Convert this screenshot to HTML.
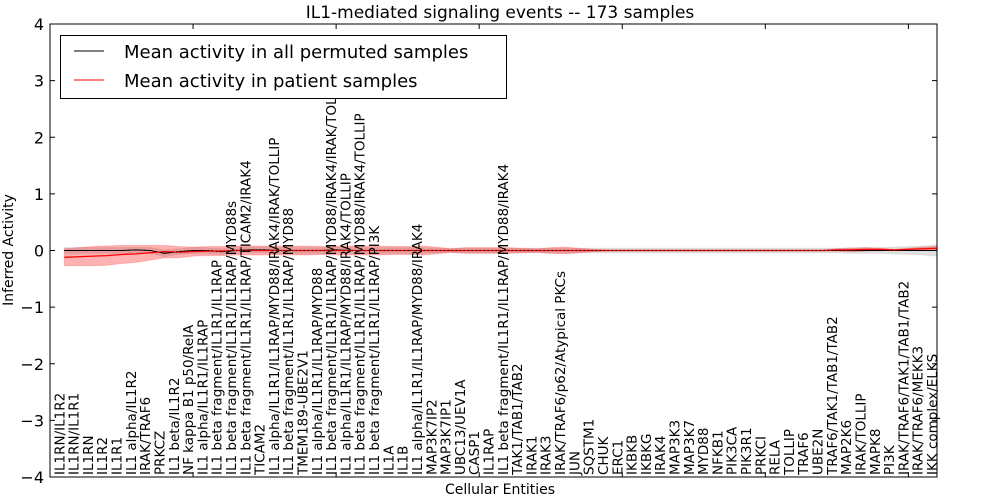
<!DOCTYPE html>
<html><head><meta charset="utf-8"><style>
body{margin:0;background:#fff}
svg{display:block;font-family:"DejaVu Sans","Liberation Sans",sans-serif}
</style></head><body>
<svg id="chart" width="1000" height="500" xmlns="http://www.w3.org/2000/svg"></svg>
<script>
const categories=["IL1RN/IL1R2","IL1RN/IL1R1","IL1RN","IL1R2","IL1R1","IL1 alpha/IL1R2","IRAK/TRAF6","PRKCZ","IL1 beta/IL1R2","NF kappa B1 p50/RelA","IL1 alpha/IL1R1/IL1RAP","IL1 beta fragment/IL1R1/IL1RAP","IL1 beta fragment/IL1R1/IL1RAP/MYD88s","IL1 beta fragment/IL1R1/IL1RAP/TICAM2/IRAK4","TICAM2","IL1 alpha/IL1R1/IL1RAP/MYD88/IRAK4/IRAK/TOLLIP","IL1 beta fragment/IL1R1/IL1RAP/MYD88","TMEM189-UBE2V1","IL1 alpha/IL1R1/IL1RAP/MYD88","IL1 beta fragment/IL1R1/IL1RAP/MYD88/IRAK4/IRAK/TOLLIP","IL1 alpha/IL1R1/IL1RAP/MYD88/IRAK4/TOLLIP","IL1 beta fragment/IL1R1/IL1RAP/MYD88/IRAK4/TOLLIP","IL1 beta fragment/IL1R1/IL1RAP/PI3K","IL1A","IL1B","IL1 alpha/IL1R1/IL1RAP/MYD88/IRAK4","MAP3K7IP2","MAP3K7IP1","UBC13/UEV1A","CASP1","IL1RAP","IL1 beta fragment/IL1R1/IL1RAP/MYD88/IRAK4","TAK1/TAB1/TAB2","IRAK1","IRAK3","IRAK/TRAF6/p62/Atypical PKCs","JUN","SQSTM1","CHUK","ERC1","IKBKB","IKBKG","IRAK4","MAP3K3","MAP3K7","MYD88","NFKB1","PIK3CA","PIK3R1","PRKCI","RELA","TOLLIP","TRAF6","UBE2N","TRAF6/TAK1/TAB1/TAB2","MAP2K6","IRAK/TOLLIP","MAPK8","PI3K","IRAK/TRAF6/TAK1/TAB1/TAB2","IRAK/TRAF6/MEKK3","IKK complex/ELKS"];
const permMean=[0,0,0,0,0,0.01,0,-0.05,-0.02,0,0,-0.02,0,0.01,0.01,0,0,0,0,0.01,0,0,0,0,0,0,0,0,0,0,0,0,0,0,0,0,0,0,0,0,0,0,0,0,0,0,0,0,0,0,0,0,0,0,0,0,0,0,0,0,0,0];
const permSd=[0.05,0.05,0.05,0.05,0.05,0.05,0.05,0.06,0.05,0.05,0.05,0.05,0.05,0.05,0.05,0.05,0.05,0.05,0.05,0.05,0.05,0.05,0.05,0.05,0.05,0.05,0.04,0.04,0.04,0.04,0.04,0.04,0.04,0.04,0.04,0.04,0.04,0.04,0.04,0.04,0.04,0.04,0.04,0.04,0.04,0.04,0.04,0.04,0.04,0.04,0.04,0.04,0.04,0.04,0.04,0.05,0.05,0.05,0.06,0.07,0.08,0.1];
const patMean=[-0.12,-0.11,-0.1,-0.09,-0.07,-0.06,-0.04,-0.02,-0.03,-0.02,-0.01,-0.01,0,0,0,0,0,0,0,0,0,0,0,0,0,0,0,0,0,0,0,0,0,0,0,0,0,0,0,0,0,0,0,0,0,0,0,0,0,0,0,0,0,0,0.01,0.01,0.02,0.02,0.01,0.02,0.03,0.04];
const patSd=[0.15,0.16,0.17,0.17,0.16,0.15,0.13,0.11,0.1,0.08,0.08,0.08,0.08,0.08,0.08,0.08,0.08,0.08,0.07,0.08,0.08,0.08,0.08,0.07,0.07,0.08,0.06,0.03,0.05,0.05,0.05,0.05,0.04,0.03,0.05,0.06,0.04,0.02,0.01,0.01,0.01,0.01,0.01,0.01,0.01,0.01,0.01,0.01,0.01,0.01,0.01,0.01,0.01,0.01,0.02,0.03,0.03,0.02,0.01,0.02,0.03,0.03];
const yTicks=[4,3,2,1,0,-1,-2,-3,-4];
const L=50,R=937,T=24,B=477;
const xs=i=>L+(i+1)*(R-L)/62;
const ys=v=>T+(4-v)*(B-T)/8;
const svg=document.getElementById('chart');
const NS='http://www.w3.org/2000/svg';
function mk(tag,at,parent){const e=document.createElementNS(NS,tag);for(const k in at)e.setAttribute(k,at[k]);(parent||svg).appendChild(e);return e;}
function band(mean,sd,fill,op,name){let up=mean.map((m,i)=>xs(i)+','+ys(m+sd[i]));let lo=mean.map((m,i)=>xs(i)+','+ys(m-sd[i])).reverse();
const p=mk('polygon',{points:up.concat(lo).join(' '),fill:fill,'fill-opacity':op,stroke:fill,'stroke-opacity':op*0.6});

}
band(permMean,permSd,'#999',0.3,'permuted-band');
band(patMean,patSd,'#f00',0.3,'patient-band');
const lp=mk('polyline',{points:permMean.map((m,i)=>xs(i)+','+ys(m)).join(' '),fill:'none',stroke:'#000','stroke-width':1});


const rp=mk('polyline',{points:patMean.map((m,i)=>xs(i)+','+ys(m)).join(' '),fill:'none',stroke:'#f00','stroke-width':1.3});


const ld=mk('polyline',{points:permMean.map((m,i)=>xs(i)+','+ys(m)).join(' '),fill:'none',stroke:'#000','stroke-width':1,'stroke-dasharray':'1,3'});
const fr=mk('rect',{x:L,y:T,width:R-L,height:B-T,fill:'none',stroke:'#000','stroke-width':1});


yTicks.forEach(v=>{const y=ys(v);
mk('line',{x1:L,x2:L+5,y1:y,y2:y,stroke:'#000'});mk('line',{x1:R-5,x2:R,y1:y,y2:y,stroke:'#000'});
const t=mk('text',{x:L-6,y:y+6,'text-anchor':'end','font-size':16});t.textContent=(v<0?'\u2212':'')+Math.abs(v);

});
for(let k=10;k<=60;k+=10){const x=L+k*(R-L)/62;mk('line',{x1:x,x2:x,y1:T,y2:T+5,stroke:'#000'});mk('line',{x1:x,x2:x,y1:B-5,y2:B,stroke:'#000'});}
categories.forEach((c,i)=>{const x=xs(i)-5;
const t=mk('text',{x:0,y:0,'font-size':13.5,transform:`translate(${x+5},${B-2}) rotate(-90)`});t.textContent=c;

});
const ti=mk('text',{x:500,y:18,'text-anchor':'middle','font-size':17});ti.textContent='IL1-mediated signaling events -- 173 samples';


const xl=mk('text',{x:500,y:494,'text-anchor':'middle','font-size':14});xl.textContent='Cellular Entities';


const yl=mk('text',{x:0,y:0,'text-anchor':'middle','font-size':14,transform:'translate(13,250) rotate(-90)'});yl.textContent='Inferred Activity';


const lg=mk('g',{});


mk('rect',{x:60.5,y:35.5,width:446,height:63,fill:'#fff',stroke:'#000'},lg);
mk('line',{x1:74,x2:104,y1:51,y2:51,stroke:'#000'},lg);
mk('line',{x1:74,x2:104,y1:80,y2:80,stroke:'#f00'},lg);
const e1=mk('text',{x:124,y:58,'font-size':18},lg);e1.textContent='Mean activity in all permuted samples';


const e2=mk('text',{x:124,y:87,'font-size':18},lg);e2.textContent='Mean activity in patient samples';


</script>
</body></html>
